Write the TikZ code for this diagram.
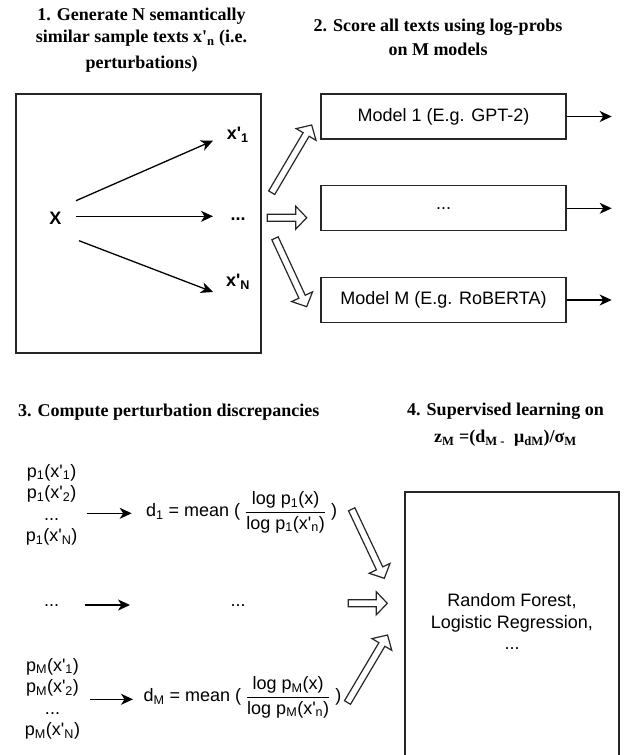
\documentclass[tikz,border=0pt]{standalone}
\usepackage{fix-cm}
\usepackage{fontspec}
\setmainfont{Liberation Sans}
\newfontfamily\ttlfont{Liberation Serif}
\usetikzlibrary{arrows.meta,calc}
\newcommand\myap{\textquotesingle}
\tikzset{
  box/.style={draw=black!85, line width=1.3pt, minimum width=245pt, minimum height=45pt, inner sep=0pt, font=\fontsize{18}{21}\selectfont},
  arr/.style={line width=1.3pt, -{Stealth[length=12pt,width=11pt,inset=3.5pt]}},
  hol/.style={draw=black!85, line width=1.2pt, fill=white, line join=miter},
  ttl/.style={inner sep=0pt, font=\ttlfont\bfseries\fontsize{18}{22}\selectfont},
  txt/.style={inner sep=0pt, font=\fontsize{18}{21.5}\selectfont},
  lbl/.style={inner sep=0pt, font=\bfseries\fontsize{18}{22}\selectfont},
}
\newcommand\hollowarrow[2]{%
  \coordinate (hC) at ($(#2)!11pt!(#1)$);
  \draw[hol] ($(#1)!3.5pt!90:(#2)$) -- ($(hC)!3.5pt!90:(#2)$) -- ($(hC)!11.5pt!90:(#2)$) -- (#2)
     -- ($(hC)!11.5pt!-90:(#2)$) -- ($(hC)!3.5pt!-90:(#2)$) -- ($(#1)!3.5pt!-90:(#2)$) -- cycle;}
\begin{document}
\begin{tikzpicture}[x=1pt,y=-1pt]
\useasboundingbox (0,0) rectangle (626,755);
\clip (0,0) rectangle (626,755);
% titles
\node[ttl, anchor=base] (t1) at (141.5,20.7) {\begin{tabular}[t]{@{}c@{}}1. Generate N semantically\\ similar sample texts x\myap\textsubscript{n} (i.e.\\[3.6pt] perturbations)\end{tabular}};
\node[ttl, anchor=base] (t2) at (438,31.7) {\begin{tabular}[t]{@{}c@{}}2. Score all texts using log-probs\\[1.3pt] on M models\end{tabular}};
\node[ttl, anchor=base west] (t3) at (18,416.7) {3. Compute perturbation discrepancies};
\node[ttl, anchor=base] (t4) at (505.5,415) {\begin{tabular}[t]{@{}c@{}}4. Supervised learning on\\[5.7pt] z\textsubscript{M} =(d\textsubscript{M -}\ \ μ\textsubscript{dM})/σ\textsubscript{M}\end{tabular}};
% box 1
\node[draw=black!85, line width=1.3pt, minimum width=245pt, minimum height=259pt, inner sep=0pt] (b1) at (138.5,223.5) {};
\node[lbl, anchor=base] (X) at (55.3,224) {X};
\node[lbl, anchor=base west] (x1) at (226.7,139.5) {x\myap\textsubscript{1}};
\node[lbl, anchor=base] (xd) at (238,220) {...};
\node[lbl, anchor=base west] (xN) at (226,286.7) {x\myap\textsubscript{N}};
\coordinate (s1) at (76,200.7); \coordinate (e1) at (213,140.7);
\coordinate (s2) at (76,216.3); \coordinate (e2) at (213,216.3);
\coordinate (s3) at (79,240.7); \coordinate (e3) at (213,292);
\draw[arr] (s1) -- (e1);
\draw[arr] (s2) -- (e2);
\draw[arr] (s3) -- (e3);
% model boxes
\node[box] (m1) at (443.5,116.5) {Model 1 (E.g. GPT-2)};
\node[box] (m2) at (443.5,208.3) {...};
\node[box] (m3) at (443.5,300) {Model M (E.g. RoBERTA)};
\coordinate (o1) at (611.7,116.5);
\coordinate (o2) at (611.7,208.3);
\coordinate (o3) at (611.7,300);
\draw[arr] (m1.east) -- (o1);
\draw[arr] (m2.east) -- (o2);
\draw[arr] (m3.east) -- (o3);
% hollow arrows top
\coordinate (ha1) at (271.7,192.7); \coordinate (hb1) at (311.7,125);
\coordinate (ha2) at (267.3,217.7); \coordinate (hb2) at (306.7,217.7);
\coordinate (ha3) at (275,238.3);   \coordinate (hb3) at (306.7,306.7);
\hollowarrow{ha1}{hb1}
\hollowarrow{ha2}{hb2}
\hollowarrow{ha3}{hb3}
% lower left
\node[txt, anchor=base] (p1) at (51.7,477) {\begin{tabular}[t]{@{}c@{}}p\textsubscript{1}(x\myap\textsubscript{1})\\ p\textsubscript{1}(x\myap\textsubscript{2})\\ ...\\ p\textsubscript{1}(x\myap\textsubscript{N})\end{tabular}};
\node[txt, anchor=base west] (d1) at (146,516.7) {d\textsubscript{1} = mean ( $\displaystyle\frac{\mbox{log p\textsubscript{1}(x)}}{\mbox{log p\textsubscript{1}(x\myap\textsubscript{n})}}$ )};
\coordinate (a1s) at (86.7,513.3); \coordinate (a1e) at (131.7,513.3);
\draw[arr] (a1s) -- (a1e);
\node[txt, anchor=base] (pd) at (51.7,606.5) {...};
\node[txt, anchor=base] (dd) at (238,606.5) {...};
\coordinate (a2s) at (85,605); \coordinate (a2e) at (130,605);
\draw[arr] (a2s) -- (a2e);
\node[txt, anchor=base] (pM) at (52.5,671) {\begin{tabular}[t]{@{}c@{}}p\textsubscript{M}(x\myap\textsubscript{1})\\ p\textsubscript{M}(x\myap\textsubscript{2})\\ ...\\ p\textsubscript{M}(x\myap\textsubscript{N})\end{tabular}};
\node[txt, anchor=base west] (dM) at (143.3,701.7) {d\textsubscript{M} = mean ( $\displaystyle\frac{\mbox{log p\textsubscript{M}(x)}}{\mbox{log p\textsubscript{M}(x\myap\textsubscript{n})}}$ )};
\coordinate (a3s) at (90,699.3); \coordinate (a3e) at (133,699.3);
\draw[arr] (a3s) -- (a3e);
% box 4
\node[draw=black!85, line width=1.3pt, minimum width=214pt, minimum height=272pt, inner sep=0pt] (rfbox) at (512,628) {};
\node[txt, anchor=base] (rf) at (512,606.7) {\begin{tabular}[t]{@{}c@{}}Random Forest,\\ Logistic Regression,\\ ...\end{tabular}};
% hollow arrows bottom
\coordinate (hc1) at (351.7,509.3); \coordinate (hd1) at (384.3,578.3);
\coordinate (hc2) at (348.3,603.3); \coordinate (hd2) at (387.3,603.3);
\coordinate (hc3) at (347.5,702.5); \coordinate (hd3) at (387.5,635);
\hollowarrow{hc1}{hd1}
\hollowarrow{hc2}{hd2}
\hollowarrow{hc3}{hd3}
\end{tikzpicture}
\end{document}
